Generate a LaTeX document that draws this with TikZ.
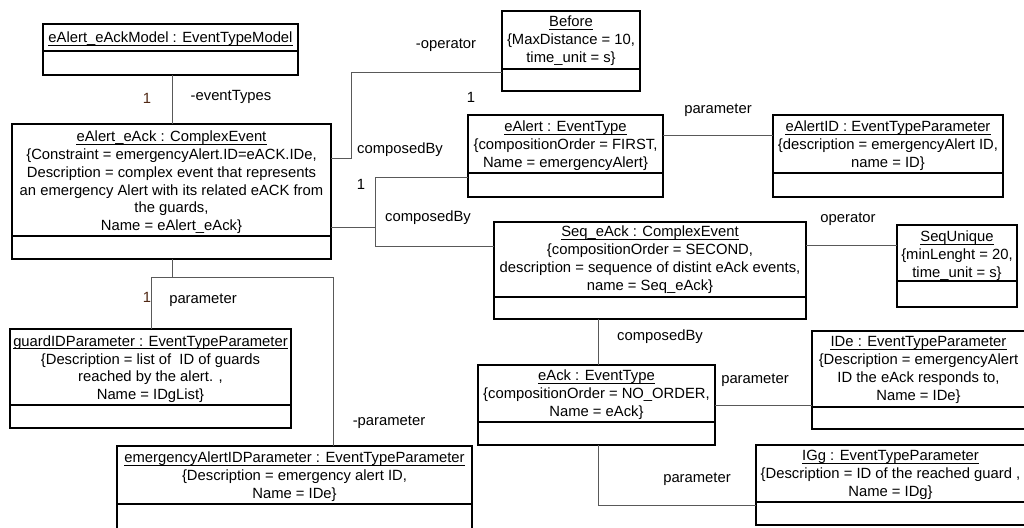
\documentclass[tikz,border=0pt]{standalone}
\usepackage{fontspec}
\setmainfont{Liberation Sans}
\usetikzlibrary{fit,calc}
\tikzset{
  objbox/.style={draw=black, line width=1.3pt, inner sep=0pt, outer sep=0pt},
  boxline/.style={draw=black, line width=1.3pt},
  uline/.style={draw=black, line width=0.9pt},
  objtext/.style={inner sep=0pt, align=center, font=\fontsize{14.8}{17.8}\selectfont},
  conn/.style={draw=black!65, line width=0.9pt},
  lbl/.style={inner sep=0pt, font=\fontsize{14.8}{17.8}\selectfont},
  mult/.style={inner sep=0pt, font=\fontsize{14.8}{17.8}\selectfont, text={rgb,255:red,80;green,40;blue,20}}
}
\newcommand{\us}{\textunderscore}
% #1 name, #2 x1, #3 y1, #4 x2, #5 divider y, #6 y2, #7 title baseline y, #8 title, #9 body
\newcommand{\umlobj}[9]{%
  \node[objbox, fit={(#2,#3) (#4,#6)}] (#1) {};
  \draw[boxline] (#2,#5) -- (#4,#5);
  \node[objtext, anchor=base] (#1-h) at ({(#2+#4)/2},#7) {#8};
  \draw[uline] ([yshift=-2.7pt]#1-h.base west) -- ([yshift=-2.7pt]#1-h.base east);
  \node[objtext, anchor=north] (#1-b) at ({(#2+#4)/2},{#7+6.3}) {\rule{0pt}{11.5pt}#9};
}
\begin{document}
\begin{tikzpicture}[x=1pt,y=-1pt]
\useasboundingbox (0,0) rectangle (1024,527);
\clip (0,0) rectangle (1024,527);
\fill[white] (0,0) rectangle (1024,527);

% objects
\umlobj{model}{43}{24}{298}{51}{75}{43}{eAlert\us eAckModel : EventTypeModel}{}
\umlobj{ce}{12}{124}{331}{236}{259}{141.5}{eAlert\us eAck : ComplexEvent}{{\{}Constraint = emergencyAlert.ID=eACK.IDe,\\Description = complex event that represents\\an emergency Alert with its related eACK from\\the guards,\\Name = eAlert\us eAck{\}}}
\umlobj{before}{502}{11}{640}{69}{91}{26.5}{Before}{{\{}MaxDistance = 10,\\time\us unit = s{\}}}
\umlobj{ealert}{468}{115}{663}{173}{197}{131.5}{eAlert : EventType}{{\{}compositionOrder = FIRST,\\Name = emergencyAlert{\}}}
\umlobj{ealertid}{773}{115}{1003}{173}{197}{131.5}{eAlertID : EventTypeParameter}{{\{}description = emergencyAlert ID,\\name = ID{\}}}
\umlobj{seq}{494}{222}{806}{297}{319}{236.5}{Seq\us eAck : ComplexEvent}{{\{}compositionOrder = SECOND,\\description = sequence of distint eAck events,\\name = Seq\us eAck{\}}}
\umlobj{sequnique}{897}{225}{1017}{281}{307}{241.5}{SeqUnique}{{\{}minLenght = 20,\\time\us unit = s{\}}}
\umlobj{eack}{478}{365}{715}{422}{445}{380.5}{eAck : EventType}{{\{}compositionOrder = NO\us ORDER,\\Name = eAck{\}}}
\umlobj{ide}{812}{331}{1025}{407}{429}{346.5}{IDe : EventTypeParameter}{{\{}Description = emergencyAlert\\ID the eAck responds to,\\Name = IDe{\}}}
\umlobj{igg}{756}{445}{1025}{502}{525}{460.5}{IGg : EventTypeParameter}{{\{}Description = ID of the reached guard ,\\Name = IDg{\}}}
\umlobj{guard}{10}{329}{291}{405}{428}{346}{guardIDParameter : EventTypeParameter}{{\{}Description = list of\ \ ID of guards\\reached by the alert. ,\\Name = IDgList{\}}}
\umlobj{emerg}{117}{446}{472}{504}{532}{462.5}{emergencyAlertIDParameter : EventTypeParameter}{{\{}Description = emergency alert ID,\\Name = IDe{\}}}

% joints
\coordinate (c1) at (351,158);
\coordinate (c2) at (351,72);
\coordinate (c3) at (375,177);
\coordinate (c4) at (375,246);
\coordinate (c5) at (375,227);
\coordinate (c6) at (700,135);
\coordinate (c7) at (850,245);
\coordinate (c8) at (598,340);
\coordinate (c9) at (760,405);
\coordinate (c10) at (598,505);
\coordinate (c11) at (172,277);
\coordinate (c12) at (151,277);
\coordinate (c13) at (333,277);
\coordinate (c0) at (172,100);

% connectors
\draw[conn] (c0 |- model.south) -- (c0 |- ce.north);
\draw[conn] (c1 -| ce.east) -- (c1) -- (c2) -- (c2 -| before.west);
\draw[conn] (c3 -| ealert.west) -- (c3) -- (c4) -- (c4 -| seq.west);
\draw[conn] (c5 -| ce.east) -- (c5);
\draw[conn] (c6 -| ealert.east) -- (c6 -| ealertid.west);
\draw[conn] (c7 -| seq.east) -- (c7 -| sequnique.west);
\draw[conn] (c8 |- seq.south) -- (c8 |- eack.north);
\draw[conn] (c9 -| eack.east) -- (c9 -| ide.west);
\draw[conn] (c10 |- eack.south) -- (c10) -- (c10 -| igg.west);
\draw[conn] (c11 |- ce.south) -- (c11);
\draw[conn] (c12 |- guard.north) -- (c12) -- (c13) -- (c13 |- emerg.north);

% labels
\node[lbl] (l1) at (231,97) {-eventTypes};
\node[mult] (m1) at (147,98) {1};
\node[lbl] (l2) at (446,45) {-operator};
\node[lbl] (m2) at (471,97) {1};
\node[lbl] (l3) at (400,150) {composedBy};
\node[lbl] (m3) at (361,184) {1};
\node[lbl] (l4) at (428,218) {composedBy};
\node[lbl] (l5) at (718,110) {parameter};
\node[lbl] (l6) at (848,219) {operator};
\node[lbl] (l7) at (660,337) {composedBy};
\node[lbl] (l8) at (755,380) {parameter};
\node[lbl] (l9) at (697,479) {parameter};
\node[mult] (m4) at (147,297) {1};
\node[lbl] (l10) at (203,300) {parameter};
\node[lbl] (l11) at (389,422) {-parameter};
\end{tikzpicture}
\end{document}
